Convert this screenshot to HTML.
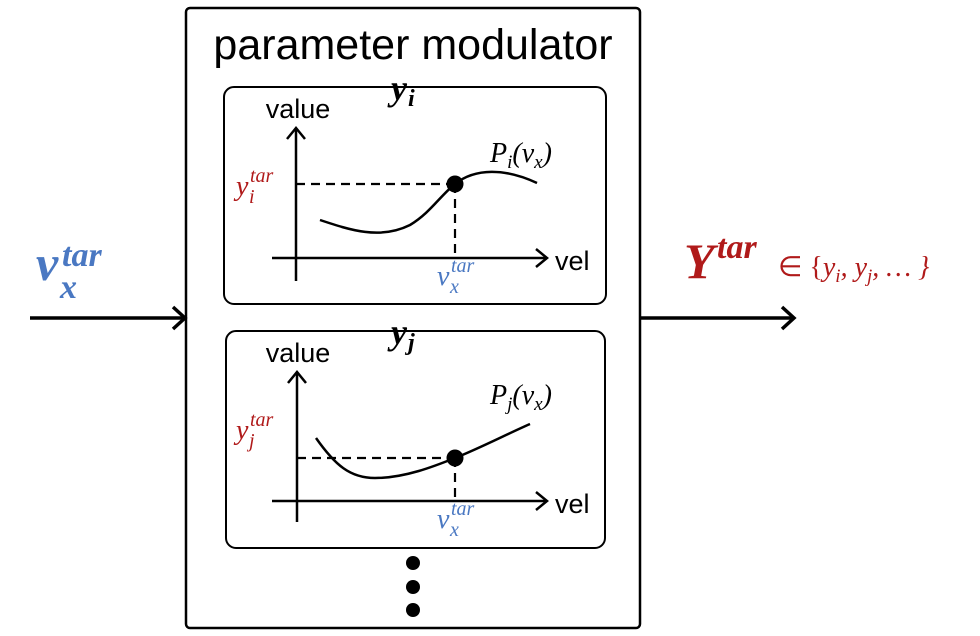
<!DOCTYPE html>
<html><head><meta charset="utf-8"><style>
html,body{margin:0;padding:0;background:#fff;}
svg{display:block;}
.t{font-family:"Liberation Sans",sans-serif;}
.m{font-family:"Liberation Serif",serif;font-style:italic;}
</style></head><body>
<svg width="980" height="636" viewBox="0 0 980 636" xmlns="http://www.w3.org/2000/svg">
<defs>
<g id="ah"><polyline points="-12,-11 0,0 -12,11" fill="none" stroke="#000" stroke-width="3.5"/></g>
</defs>
<rect x="186" y="8" width="454" height="620" rx="4" fill="#fff" stroke="#000" stroke-width="2.5"/>
<text x="413" y="59" class="t" font-size="43" text-anchor="middle">parameter modulator</text>

<!-- box 1 -->
<path d="M375,87 H596 a10,10 0 0 1 10,10 V294 a10,10 0 0 1 -10,10 H234 a10,10 0 0 1 -10,-10 V97 a10,10 0 0 1 10,-10 H451" fill="none" stroke="#000" stroke-width="2"/>
<text x="391" y="100" class="m" font-size="36" font-weight="bold">y</text>
<text x="408" y="106" class="m" font-size="24" font-weight="bold">i</text>
<text x="298" y="118" class="t" font-size="27" text-anchor="middle">value</text>
<line x1="296" y1="281" x2="296" y2="130" stroke="#000" stroke-width="2.5"/>
<polyline points="287,139 296,128 305,139" fill="none" stroke="#000" stroke-width="2.5"/>
<line x1="272" y1="258" x2="546" y2="258" stroke="#000" stroke-width="2.5"/>
<polyline points="536,249 547,258 536,267" fill="none" stroke="#000" stroke-width="2.5"/>
<text x="555" y="270" class="t" font-size="27">vel</text>
<line x1="296" y1="184" x2="455" y2="184" stroke="#000" stroke-width="2.2" stroke-dasharray="9,6"/>
<line x1="455" y1="184" x2="455" y2="258" stroke="#000" stroke-width="2.2" stroke-dasharray="9,6"/>
<path d="M320,220 C350,230 380,240 410,225 C430,213 440,196 455,184 C475,168 505,168 537,183" fill="none" stroke="#000" stroke-width="2.5"/>
<circle cx="455" cy="184" r="8.5" fill="#000"/>
<text x="490" y="162" class="m" font-size="28">P<tspan font-size="19" dy="6">i</tspan><tspan dy="-6">(v</tspan><tspan font-size="19" dy="6">x</tspan><tspan dy="-6">)</tspan></text>
<text x="236" y="195" class="m" font-size="28" fill="#b01a1a">y</text>
<text x="250" y="182" class="m" font-size="20" fill="#b01a1a">tar</text>
<text x="249" y="203" class="m" font-size="20" fill="#b01a1a">i</text>
<text x="437" y="285" class="m" font-size="28" fill="#4a78c2">v</text>
<text x="451" y="272" class="m" font-size="20" fill="#4a78c2">tar</text>
<text x="450" y="293" class="m" font-size="20" fill="#4a78c2">x</text>

<!-- box 2 -->
<path d="M377,331 H595 a10,10 0 0 1 10,10 V538 a10,10 0 0 1 -10,10 H236 a10,10 0 0 1 -10,-10 V341 a10,10 0 0 1 10,-10 H443" fill="none" stroke="#000" stroke-width="2"/>
<text x="391" y="344" class="m" font-size="36" font-weight="bold">y</text>
<text x="408" y="350" class="m" font-size="24" font-weight="bold">j</text>
<text x="298" y="362" class="t" font-size="27" text-anchor="middle">value</text>
<line x1="297" y1="522" x2="297" y2="374" stroke="#000" stroke-width="2.5"/>
<polyline points="288,383 297,372 306,383" fill="none" stroke="#000" stroke-width="2.5"/>
<line x1="272" y1="501" x2="546" y2="501" stroke="#000" stroke-width="2.5"/>
<polyline points="536,492 547,501 536,510" fill="none" stroke="#000" stroke-width="2.5"/>
<text x="555" y="513" class="t" font-size="27">vel</text>
<line x1="297" y1="458" x2="455" y2="458" stroke="#000" stroke-width="2.2" stroke-dasharray="9,6"/>
<line x1="455" y1="458" x2="455" y2="501" stroke="#000" stroke-width="2.2" stroke-dasharray="9,6"/>
<path d="M316,438 C335,465 350,478 375,478 C405,478 435,466 455,458 C480,448 505,435 530,424" fill="none" stroke="#000" stroke-width="2.5"/>
<circle cx="455" cy="458" r="8.5" fill="#000"/>
<text x="490" y="404" class="m" font-size="28">P<tspan font-size="19" dy="6">j</tspan><tspan dy="-6">(v</tspan><tspan font-size="19" dy="6">x</tspan><tspan dy="-6">)</tspan></text>
<text x="236" y="439" class="m" font-size="28" fill="#b01a1a">y</text>
<text x="250" y="426" class="m" font-size="20" fill="#b01a1a">tar</text>
<text x="249" y="447" class="m" font-size="20" fill="#b01a1a">j</text>
<text x="437" y="528" class="m" font-size="28" fill="#4a78c2">v</text>
<text x="451" y="515" class="m" font-size="20" fill="#4a78c2">tar</text>
<text x="450" y="536" class="m" font-size="20" fill="#4a78c2">x</text>

<circle cx="413" cy="563" r="7" fill="#000"/>
<circle cx="413" cy="587" r="7" fill="#000"/>
<circle cx="413" cy="610" r="7" fill="#000"/>

<!-- arrows -->
<line x1="30" y1="318" x2="184" y2="318" stroke="#000" stroke-width="3.5"/>
<use href="#ah" x="185" y="318"/>
<line x1="640" y1="318" x2="793" y2="318" stroke="#000" stroke-width="3.5"/>
<use href="#ah" x="794" y="318"/>

<text x="36" y="280" class="m" font-size="50" font-weight="bold" fill="#4a78c2">v</text>
<text x="62" y="266" class="m" font-size="34" font-weight="bold" fill="#4a78c2">tar</text>
<text x="60" y="298" class="m" font-size="34" font-weight="bold" fill="#4a78c2">x</text>
<text x="684" y="278" class="m" font-size="50" font-weight="bold" fill="#b01a1a">Y</text>
<text x="717" y="258" class="m" font-size="34" font-weight="bold" fill="#b01a1a">tar</text>
<text x="778" y="276" class="m" font-size="28" fill="#b01a1a"><tspan font-style="normal">∈ {</tspan>y<tspan font-size="19" dy="6">i</tspan><tspan dy="-6">, y</tspan><tspan font-size="19" dy="6">j</tspan><tspan dy="-6">, … }</tspan></text>
</svg>
</body></html>
